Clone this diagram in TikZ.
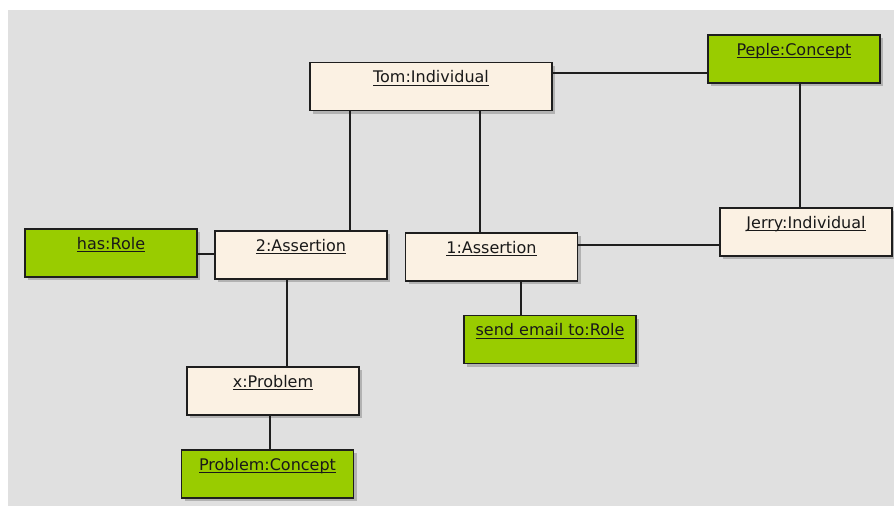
\documentclass[tikz,border=0pt]{standalone}
\usepackage{fontspec}
\setmainfont{DejaVu Sans}
\usetikzlibrary{shadows}

\definecolor{canvasgray}{RGB}{224,224,224}
\definecolor{instfill}{RGB}{251,241,227}
\definecolor{conceptfill}{RGB}{153,204,0}
\definecolor{edgeink}{RGB}{30,30,30}
\definecolor{shadowgray}{RGB}{178,178,178}

% underlined label with the rule at a fixed depth below the baseline
\newcommand\ullabel[1]{\setbox0\hbox{#1}\rlap{\rule[-3pt]{\wd0}{0.9pt}}\box0}

\tikzset{
  objbox/.style={
    rectangle, draw=edgeink, line width=1.4pt,
    minimum width=172pt, inner xsep=0pt, inner ysep=0pt,
    text height=20pt, text depth=28pt,
    font=\fontsize{16}{18}\selectfont, text=black!90,
    drop shadow={shadow xshift=3pt, shadow yshift=-3pt, fill=shadowgray, opacity=1}
  },
  instance/.style={objbox, fill=instfill},
  concept/.style={objbox, fill=conceptfill},
  link/.style={draw=edgeink, line width=1.3pt}
}

\begin{document}
\begin{tikzpicture}[x=1pt, y=-1pt]
  \useasboundingbox (0,0) rectangle (894,506);
  \fill[white] (0,0) rectangle (894,506);
  \fill[canvasgray] (8,10) rectangle (894,506);

  % objects
  \node[instance, minimum width=242pt] (tom)    at (431,86.5) {\ullabel{Tom:Individual}};
  \node[concept]  (peple)  at (794,59)    {\ullabel{Peple:Concept}};
  \node[instance] (jerry)  at (806,232)   {\ullabel{Jerry:Individual}};
  \node[concept]  (hasrole) at (111,253)  {\ullabel{has:Role}};
  \node[instance] (asrt2)  at (301,255)   {\ullabel{2:Assertion}};
  \node[instance] (asrt1)  at (491.5,257) {\ullabel{1:Assertion}};
  \node[concept]  (sendrole) at (550,339.5) {\ullabel{send email to:Role}};
  \node[instance] (xprob)  at (273,391)   {\ullabel{x:Problem}};
  \node[concept]  (probcon) at (267.5,474) {\ullabel{Problem:Concept}};

  % links
  \draw[link] ([yshift=13.5pt]tom.east) coordinate (ta) -- (ta -| peple.west);
  \draw[link] ([xshift=6pt]peple.south) coordinate (pj) -- (pj |- jerry.north);
  \draw[link] ([xshift=-81pt]tom.south) coordinate (t2) -- (t2 |- asrt2.north);
  \draw[link] ([xshift=49pt]tom.south) coordinate (t1) -- (t1 |- asrt1.north);
  \draw[link] ([yshift=1pt]asrt2.west) coordinate (r2) -- (r2 -| hasrole.east);
  \draw[link] ([yshift=12pt]asrt1.east) coordinate (a1j) -- (a1j -| jerry.west);
  \draw[link] ([xshift=-14pt]asrt2.south) coordinate (a2x) -- (a2x |- xprob.north);
  \draw[link] ([xshift=29.5pt]asrt1.south) coordinate (a1s) -- (a1s |- sendrole.north);
  \draw[link] ([xshift=-3pt]xprob.south) coordinate (xp) -- (xp |- probcon.north);
\end{tikzpicture}
\end{document}
